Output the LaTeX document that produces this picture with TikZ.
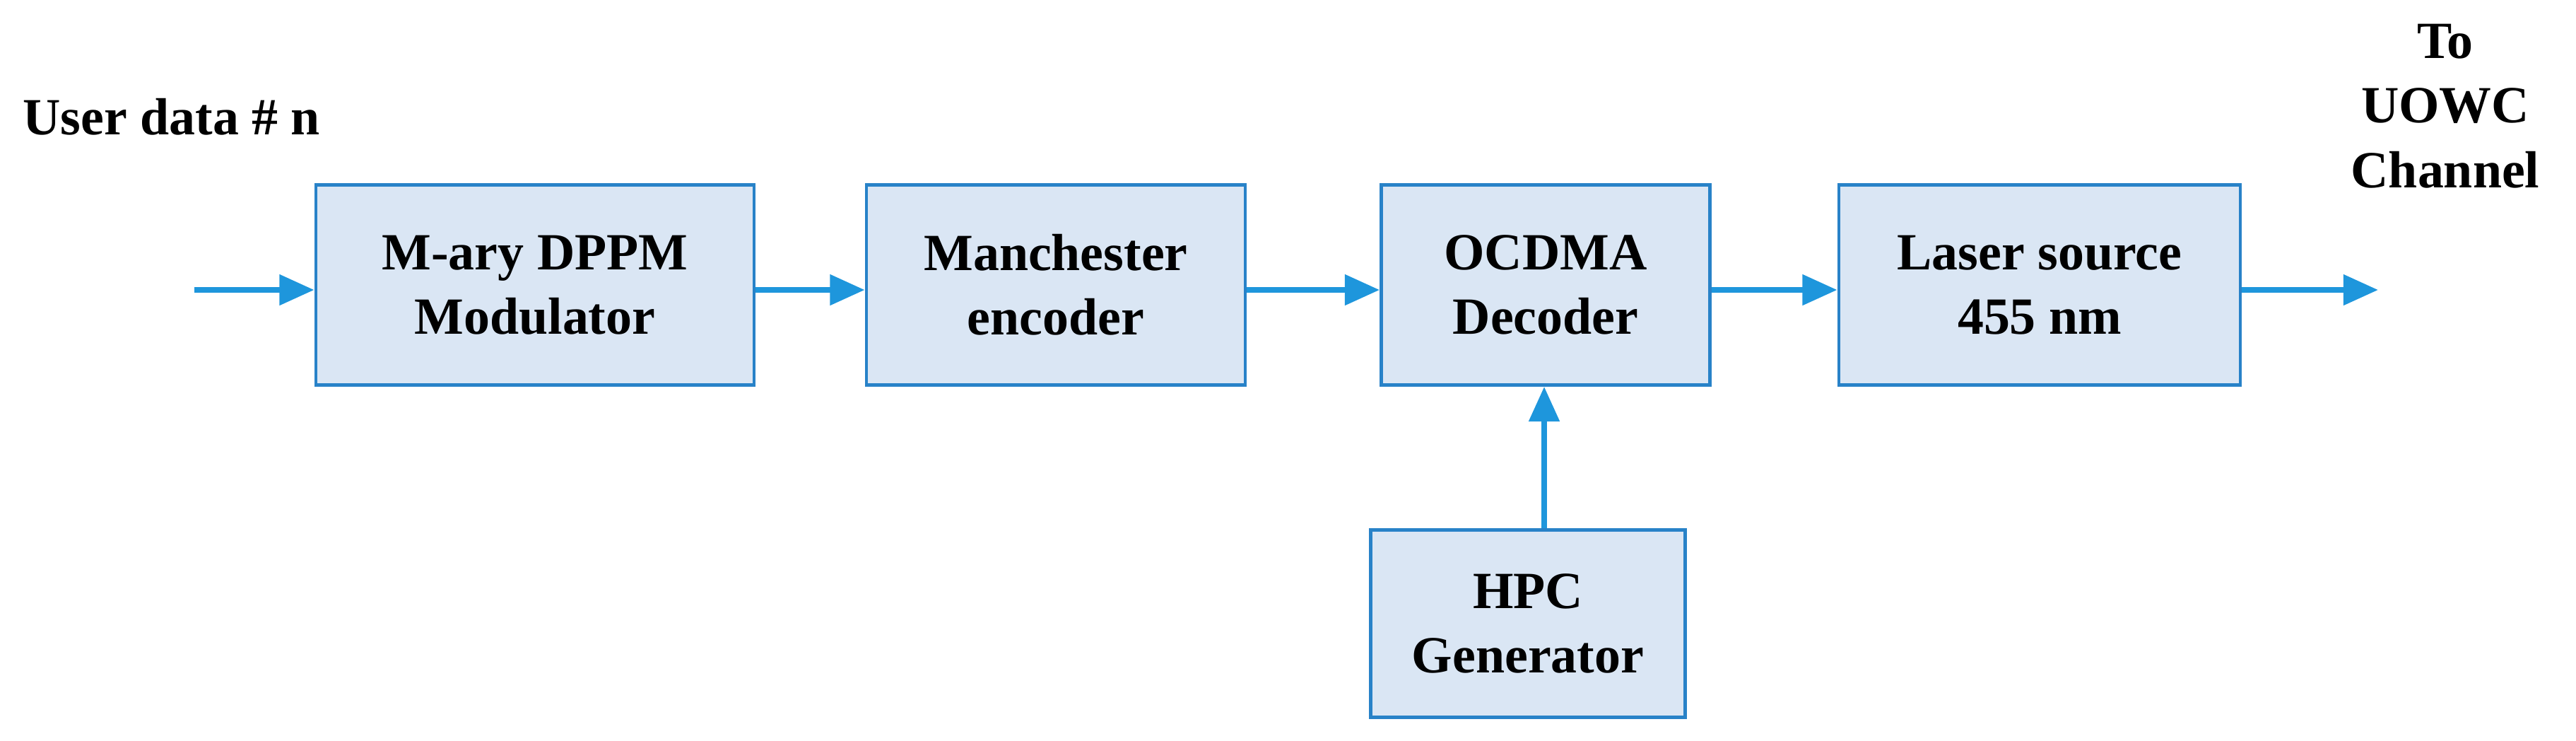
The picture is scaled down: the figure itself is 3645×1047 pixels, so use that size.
\documentclass[tikz,border=0pt]{standalone}
\usepackage{fontspec}
\setmainfont{Liberation Serif}
\usetikzlibrary{arrows.meta}
\definecolor{bfill}{RGB}{218,230,244}
\definecolor{bdraw}{RGB}{40,130,200}
\definecolor{arr}{RGB}{30,150,220}
\begin{document}
\begin{tikzpicture}[x=0.01cm,y=-0.01cm,
 box/.style={draw=bdraw,fill=bfill,line width=1.3pt,align=center,inner sep=0pt,font=\fontsize{21}{26}\selectfont\bfseries},
 lab/.style={align=center,font=\fontsize{21}{26}\selectfont\bfseries},
 ar/.style={draw=arr,line width=2.2pt,-{Triangle[length=14pt,width=12pt]}}]
\useasboundingbox (0,0) rectangle (3645,1047);
\node[box,minimum width=6.2cm,minimum height=2.83cm] (m) at (757,403) {M-ary DPPM\\Modulator};
\node[box,minimum width=5.36cm,minimum height=2.83cm] (e) at (1494,403) {Manchester\\encoder};
\node[box,minimum width=4.65cm,minimum height=2.83cm] (o) at (2187,403) {OCDMA\\Decoder};
\node[box,minimum width=5.68cm,minimum height=2.83cm] (l) at (2886,403) {Laser source\\455 nm};
\node[box,minimum width=4.45cm,minimum height=2.65cm] (h) at (2162,882) {HPC\\Generator};
\node[lab,anchor=west] (u) at (20,165) {User data \# n};
\node[lab] (t) at (3460,150) {To\\UOWC\\Channel};
\coordinate (in) at (275,410);
\coordinate (out) at (3365,410);
\draw[ar] (in) -- (m.west|-in);
\draw[ar] (m.east|-in) -- (e.west|-in);
\draw[ar] (e.east|-in) -- (o.west|-in);
\draw[ar] (o.east|-in) -- (l.west|-in);
\draw[ar] (l.east|-in) -- (out);
\draw[ar] (h.north-|2185,0) -- (o.south-|2185,0);
\end{tikzpicture}
\end{document}
